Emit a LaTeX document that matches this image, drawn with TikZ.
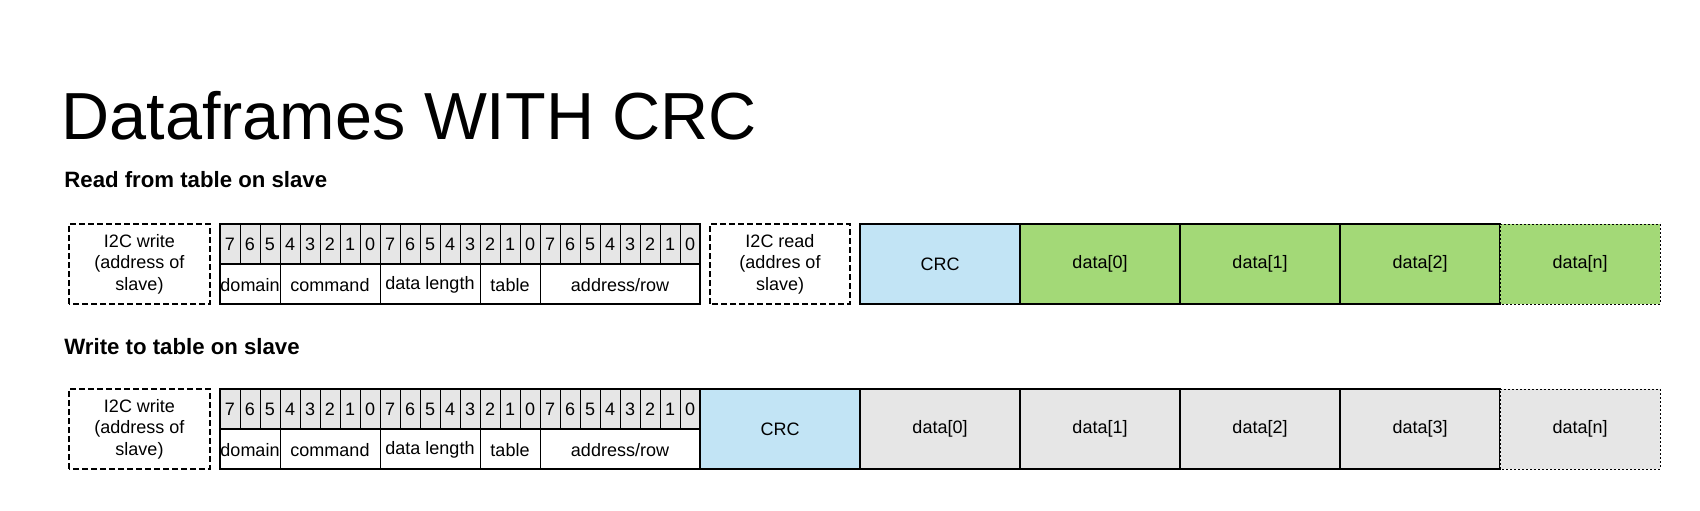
\documentclass[tikz,border=0pt]{standalone}
\usepackage{fontspec}
\setmainfont{Liberation Sans}
\usepackage{tikz}
\usepackage{xcolor}
\usetikzlibrary{positioning}
\definecolor{bitgray}{RGB}{230,230,230}
\definecolor{crcblue}{RGB}{194,228,245}
\definecolor{datagreen}{RGB}{163,217,119}

\tikzset{
  lbl/.style={font=\fontsize{9}{10.8}\selectfont, align=center, inner sep=0pt},
  i2cbox/.style={draw, line width=1pt, dash pattern=on 3pt off 1.5pt},
  framebox/.style={line width=0.6pt},
  lastbox/.style={line width=0.5pt, dash pattern=on 1pt off 1pt},
}

\begin{document}
\begin{tikzpicture}[x=0.5pt,y=0.5pt]
  \useasboundingbox (0,0) rectangle (1700,510);

  \node[anchor=base west, inner sep=0pt, font=\fontsize{33.3}{40}\selectfont] (title) at (61,371) {Dataframes WITH CRC};
  \node[anchor=base west, inner sep=0pt, font=\bfseries\fontsize{11.1}{13}\selectfont] (readhead) at (64,323) {Read from table on slave};
  \node[anchor=base west, inner sep=0pt, font=\bfseries\fontsize{11.1}{13}\selectfont] (writehead) at (64,156) {Write to table on slave};

  % header part, same in both frames
  \foreach \yb/\r in {206/r, 41/w} {
    \draw[i2cbox] (69,\yb) rectangle +(141,80);
    \node[lbl] (\r i2cw) at (139.5,\yb+40) {I2C write\\(address of\\slave)};

    \filldraw[fill=bitgray, framebox] (220,\yb+40) rectangle +(480,40);
    \foreach \i in {0, 1, ..., 23} {
      \pgfmathtruncatemacro{\b}{7-mod(\i,8)}
      \draw[line width=0.4pt] (220+20*\i, \yb+40) -- +(0, 40);
      \node[lbl] (\r bit\i) at (230+20*\i, \yb+60) {\b};
    }
    \draw[framebox] (220,\yb) rectangle (700,\yb+80);
    \foreach \x in {280, 380, 480, 540}
      \draw[line width=0.4pt] (\x, \yb) -- +(0, 40);

    \node[lbl] (\r domain) at (250,\yb+19) {domain};
    \node[lbl] (\r command) at (330,\yb+19) {command};
    \node[lbl] (\r length) at (430,\yb+19) {data length};
    \node[lbl] (\r table) at (510,\yb+19) {table};
    \node[lbl] (\r address) at (620,\yb+19) {address/row};
  }

  % read frame
  \draw[i2cbox] (710,206) rectangle (850,286);
  \node[lbl] (ri2cr) at (780,246) {I2C read\\(addres of\\slave)};
  \filldraw[fill=crcblue, framebox] (860,206) rectangle (1020,286);
  \node[lbl] (rcrc) at (940,246) {CRC};
  \foreach \k in {0, 1, 2} {
    \filldraw[fill=datagreen, framebox] (1020+160*\k,206) rectangle +(160,80);
    \node[lbl] (rdata\k) at (1100+160*\k,246) {data[\k]};
  }
  \filldraw[fill=datagreen, lastbox] (1500,206) rectangle (1660,286);
  \node[lbl] (rdatan) at (1580,246) {data[n]};

  % write frame
  \filldraw[fill=crcblue, framebox] (700,41) rectangle (860,121);
  \node[lbl] (wcrc) at (780,81) {CRC};
  \foreach \k in {0, 1, 2, 3} {
    \filldraw[fill=bitgray, framebox] (860+160*\k,41) rectangle +(160,80);
    \node[lbl] (wdata\k) at (940+160*\k,81) {data[\k]};
  }
  \filldraw[fill=bitgray, lastbox] (1500,41) rectangle (1660,121);
  \node[lbl] (wdatan) at (1580,81) {data[n]};
\end{tikzpicture}
\end{document}
